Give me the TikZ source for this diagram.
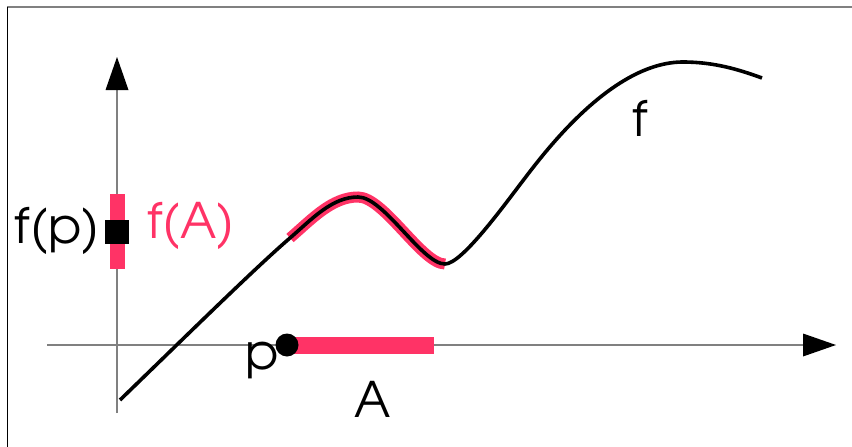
\documentclass[tikz,border=0pt]{standalone}
\usepackage{fontspec}
\setmainfont{texgyreadventor-regular.otf}
\usetikzlibrary{arrows.meta}
\definecolor{hl}{RGB}{255,51,102}
\definecolor{axisgray}{RGB}{128,128,128}
\tikzset{
  axisline/.style={draw=axisgray,line width=1.3pt,-{Triangle[length=33pt,width=23pt,color=black,fill=black,line width=0pt]}},
  curveline/.style={draw=black,line width=3.6pt,line cap=butt},
  hlcurve/.style={draw=hl,line width=11pt,line cap=butt},
  hlbar/.style={draw=hl,line cap=butt},
  lbl/.style={font=\fontsize{49}{49}\selectfont,inner sep=0pt,anchor=base west},
}
\begin{document}
\begin{tikzpicture}[x=1pt,y=-1pt]
\useasboundingbox (0,0) rectangle (852,447);
% frame
\draw[axisgray,line width=2pt] (7,7) -- (852,7);
\draw[black,line width=0.8pt] (7,7) -- (7,447);
% axes
\coordinate (xs) at (47,345);
\coordinate (xe) at (836,345);
\coordinate (ys) at (117,413);
\coordinate (ye) at (117,57);
\draw[axisline] (xs) -- (xe);
\draw[axisline] (ys) -- (ye);
% curve points
\coordinate (c0) at (120,400);
\coordinate (c1) at (290,238);
\coordinate (c2) at (358,197);
\coordinate (c3) at (445,264);
\coordinate (c4) at (525,178);
\coordinate (c5) at (683,62);
\coordinate (c6) at (762,78);
% highlight under curve
\draw[hlcurve] (c1) .. controls (312,219) and (332,197) .. (c2)
  .. controls (384,197) and (422,264) .. (c3);
% the curve f
\draw[curveline] (c0) .. controls (180,342) and (255,268) .. (c1)
  .. controls (312,219) and (332,197) .. (c2)
  .. controls (384,197) and (422,264) .. (c3)
  .. controls (462,264) and (505,204) .. (c4)
  .. controls (550,145) and (615,62) .. (c5)
  .. controls (715,62) and (740,70) .. (c6);
% set A on x-axis
\coordinate (a0) at (287,345);
\coordinate (a1) at (434,345);
\draw[hlbar,line width=17pt] (a0) -- (a1);
\node[circle,fill=black,minimum size=23pt,inner sep=0pt] (p) at (a0) {};
% f(A) on y-axis
\coordinate (b0) at (117,194);
\coordinate (b1) at (117,269);
\draw[hlbar,line width=15pt] (b0) -- (b1);
\node[rectangle,fill=black,minimum size=24pt,inner sep=0pt] (fp) at (117,231.5) {};
% labels
\node[lbl,anchor=base east] (lfp) at (100,243) {f(p)};
\node[lbl,text=hl] (lfA) at (147,238) {f(A)};
\node[lbl] (lp) at (245,369) {p};
\node[lbl] (lA) at (354,417) {A};
\node[lbl] (lf) at (632,136) {f};
\end{tikzpicture}
\end{document}
